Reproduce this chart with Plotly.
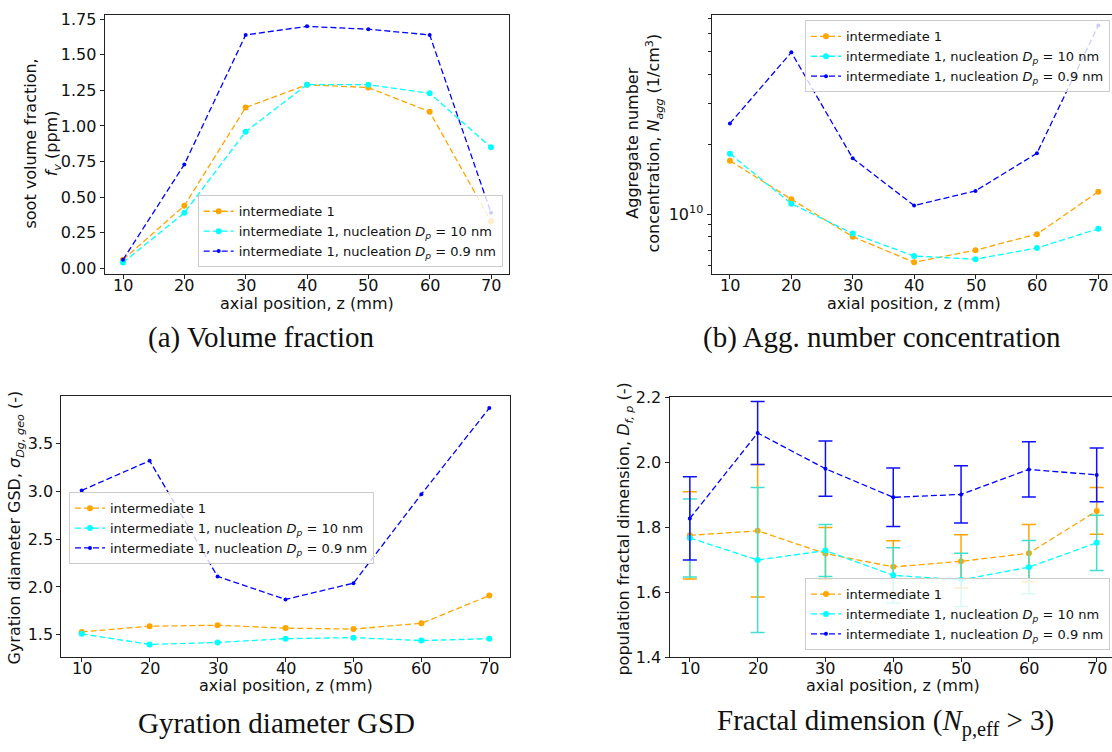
import plotly.graph_objects as go

W, H = 1112, 752

# ---------------- data ----------------
z_mm = [10, 20, 30, 40, 50, 60, 70]
z_ticklabels = ["10", "20", "30", "40", "50", "60", "70"]
series_names = [
    "intermediate 1",
    "intermediate 1, nucleation <i>D</i><sub><i>p</i></sub> = 10 nm",
    "intermediate 1, nucleation <i>D</i><sub><i>p</i></sub> = 0.9 nm",
]

fv_int1 = [0.06, 0.44, 1.13, 1.29, 1.27, 1.10, 0.33]
fv_nuc10 = [0.04, 0.39, 0.96, 1.29, 1.29, 1.23, 0.85]
fv_nuc09 = [0.06, 0.73, 1.64, 1.70, 1.68, 1.64, 0.39]

nagg_int1 = [1.70e10, 1.16e10, 8.0e9, 6.2e9, 7.0e9, 8.2e9, 1.25e10]
nagg_nuc10 = [1.82e10, 1.11e10, 8.25e9, 6.6e9, 6.4e9, 7.15e9, 8.65e9]
nagg_nuc09 = [2.46e10, 4.98e10, 1.74e10, 1.09e10, 1.26e10, 1.83e10, 6.5e10]

gsd_int1 = [1.53, 1.59, 1.60, 1.57, 1.56, 1.62, 1.91]
gsd_nuc10 = [1.51, 1.40, 1.42, 1.46, 1.47, 1.44, 1.46]
gsd_nuc09 = [3.01, 3.32, 2.11, 1.87, 2.04, 2.97, 3.87]

df_int1 = [1.775, 1.789, 1.719, 1.678, 1.695, 1.720, 1.850]
df_int1_err = [0.134, 0.204, 0.080, 0.080, 0.082, 0.088, 0.072]
df_nuc10 = [1.767, 1.699, 1.728, 1.652, 1.638, 1.677, 1.752]
df_nuc10_err = [0.120, 0.223, 0.080, 0.085, 0.082, 0.082, 0.085]
df_nuc09 = [1.827, 2.090, 1.980, 1.892, 1.901, 1.978, 1.961]
df_nuc09_err = [0.128, 0.097, 0.085, 0.090, 0.088, 0.085, 0.083]

nagg_major = [1e10]
nagg_minor = [6e9, 7e9, 8e9, 9e9, 2e10, 3e10, 4e10, 5e10, 6e10, 7e10]

captions = ["(a) Volume fraction", "(b) Agg. number concentration",
            "Gyration diameter GSD",
            "Fractal dimension (<i>N</i><sub>p,eff</sub> &gt; 3)"]

# ---------------- styles ----------------
ORANGE, CYAN, BLUE = "#FFA500", "#00FFFF", "#0000FF"
styles = [
    dict(color=ORANGE, msize=6),
    dict(color=CYAN, msize=6),
    dict(color=BLUE, msize=4),
]
err_colors = ["#FFA500", "#40E0D0", "#1010FF"]
SANS = "DejaVu Sans"


def px(x):
    return x / W


def py(y):
    return 1 - y / H


fig = go.Figure()

panels = [
    dict(xa="x", ya="y", leg="legend", ys=[fv_int1, fv_nuc10, fv_nuc09], errs=None,
         bottom=272.3),
    dict(xa="x2", ya="y2", leg="legend2", ys=[nagg_int1, nagg_nuc10, nagg_nuc09], errs=None,
         bottom=271.7),
    dict(xa="x3", ya="y3", leg="legend3", ys=[gsd_int1, gsd_nuc10, gsd_nuc09], errs=None,
         bottom=665),
    dict(xa="x4", ya="y4", leg="legend4", ys=[df_int1, df_nuc10, df_nuc09],
         errs=[df_int1_err, df_nuc10_err, df_nuc09_err], bottom=665),
]

for p in panels:
    for i, (name, yv, st) in enumerate(zip(series_names, p["ys"], styles)):
        kw = {}
        if p["errs"] is not None:
            kw["error_y"] = dict(type="data", array=p["errs"][i], symmetric=True,
                                 color=err_colors[i], thickness=1.5, width=7)
        fig.add_trace(go.Scatter(
            x=z_mm, y=yv, name=name, mode="lines+markers",
            line=dict(color=st["color"], width=1.3, dash="6px,3px"),
            marker=dict(color=st["color"], size=st["msize"], symbol="circle"),
            xaxis=p["xa"], yaxis=p["ya"], legend=p["leg"], **kw))

axis_common = dict(showline=True, linecolor="#222", linewidth=1, ticks="outside",
                   ticklen=4, tickwidth=1, tickcolor="#222", showgrid=False,
                   zeroline=False, tickfont=dict(family=SANS, size=16, color="#111"))

fig.update_layout(
    xaxis=dict(domain=[px(104.6), px(509.4)], range=[7, 73], tickvals=z_mm,
               showticklabels=False, anchor="y", mirror=True, **axis_common),
    yaxis=dict(domain=[py(272.3), py(5.7)], range=[-0.043, 1.783], tick0=0, dtick=0.25,
               tickformat=".2f", anchor="x", mirror=True, **axis_common),
    xaxis2=dict(domain=[px(711.5), 1.0], range=[7, 72.23], tickvals=z_mm,
                showticklabels=False, anchor="y2", mirror=True, **axis_common),
    yaxis2=dict(domain=[py(271.7), py(5.7)], type="log", range=[9.743, 10.860],
                tickvals=nagg_major, ticktext=["10<sup>10</sup>"], anchor="x2",
                minor=dict(tickvals=nagg_minor, ticks="outside", ticklen=2.5,
                           tickcolor="#222", tickwidth=1),
                **axis_common),
    xaxis3=dict(domain=[px(61.3), px(509.7)], range=[7, 73], tickvals=z_mm,
                showticklabels=False, anchor="y3", mirror=True, **axis_common),
    yaxis3=dict(domain=[py(665), py(397.3)], range=[1.266, 3.994], tick0=1.5, dtick=0.5,
                tickformat=".1f", anchor="x3", mirror=True, **axis_common),
    xaxis4=dict(domain=[px(669.5), 1.0], range=[7, 72.26], tickvals=z_mm,
                showticklabels=False, anchor="y4", mirror=True, **axis_common),
    yaxis4=dict(domain=[py(665), py(398.3)], range=[1.4, 2.2], tick0=1.4, dtick=0.2,
                tickformat=".1f", anchor="x4", **axis_common),
)

leg_common = dict(bgcolor="rgba(255,255,255,0.8)", bordercolor="#cccccc", borderwidth=1,
                  font=dict(family=SANS, size=13, color="#111"), tracegroupgap=0,
                  itemwidth=30)
fig.update_layout(
    legend=dict(x=px(502.7), y=py(265), xanchor="right", yanchor="bottom", **leg_common),
    legend2=dict(x=px(1110), y=py(11.7), xanchor="right", yanchor="top", **leg_common),
    legend3=dict(x=px(69), y=py(495.7), xanchor="left", yanchor="top", **leg_common),
    legend4=dict(x=px(1110), y=py(657.7), xanchor="right", yanchor="bottom", **leg_common),
)

annots = []
tick_font = dict(family=SANS, size=16, color="#111")
# x tick labels placed through each x axis' own scale
for p in panels:
    for zv, zt in zip(z_mm, z_ticklabels):
        annots.append(dict(text=zt, x=zv, xref=p["xa"], y=py(p["bottom"] + 11.5),
                           yref="paper", showarrow=False, xanchor="center",
                           yanchor="middle", font=tick_font))

lab_font = dict(family=SANS, size=16, color="#111")
# x axis titles
for cx, cy in [(307, 301.7), (914, 301.7), (285.5, 694), (893, 694)]:
    annots.append(dict(text="axial position, z (mm)", x=px(cx), y=py(cy), xref="paper",
                       yref="paper", showarrow=False, xanchor="center", yanchor="middle",
                       font=lab_font))
# y axis titles
ytitles = [
    ("soot volume fraction,<br><i>f</i><sub><i>v</i></sub> (ppm)", 42, 138),
    ("Aggregate number<br>concentration, <i>N</i><sub><i>agg</i></sub> (1/cm<sup>3</sup>)", 644, 138),
    ("Gyration diameter GSD, <i>σ</i><sub><i>Dg, geo</i></sub> (-)", 16, 532),
    ("population fractal dimension, <i>D</i><sub><i>f, p</i></sub> (-)", 625, 533),
]
for t, cx, cy in ytitles:
    annots.append(dict(text=t, x=px(cx), y=py(cy), xref="paper", yref="paper",
                       showarrow=False, textangle=-90, xanchor="center", yanchor="middle",
                       font=lab_font))
# captions
cap_font = dict(family="Liberation Serif", size=29, color="#111")
for t, cx, cy in zip(captions, [261.5, 882, 276.5, 885], [336.7, 336.7, 732, 732]):
    annots.append(dict(text=t, x=px(cx), y=py(cy), xref="paper", yref="paper",
                       showarrow=False, xanchor="center", yanchor="middle", font=cap_font))

fig.update_layout(annotations=annots, width=W, height=H, autosize=False,
                  margin=dict(l=0, r=0, t=0, b=0), paper_bgcolor="white",
                  plot_bgcolor="white", showlegend=True)

fig.write_html("out.html")
